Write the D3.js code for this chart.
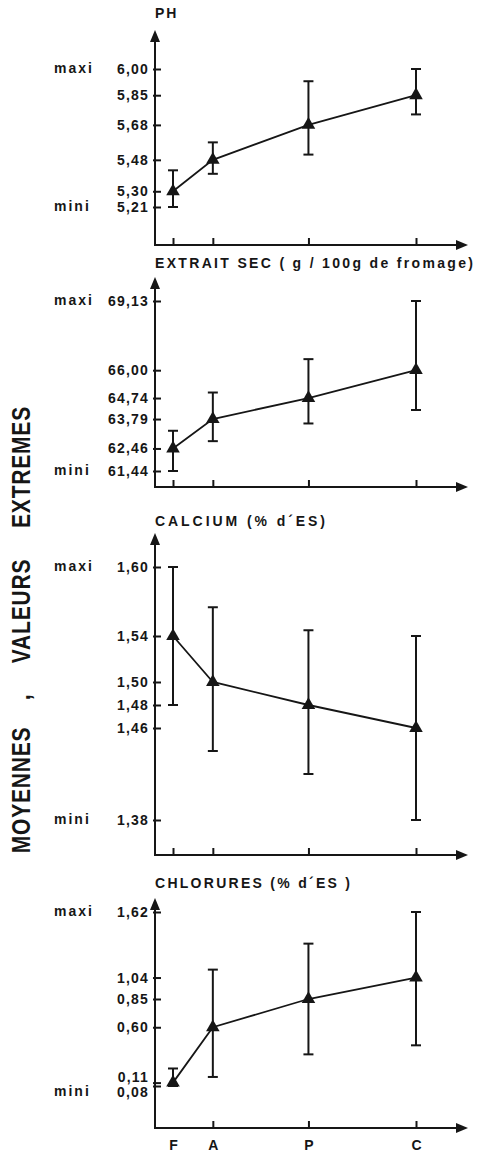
<!DOCTYPE html>
<html>
<head>
<meta charset="utf-8">
<script src="https://cdn.jsdelivr.net/npm/d3@7/dist/d3.min.js"></script>
<style>
body { margin: 0; background: #fff; }
svg { display: block; font-family: "Liberation Sans", Arial, sans-serif; font-weight: bold; }
</style>
</head>
<body>
<svg id="vis" width="481" height="1156"></svg>
<script>
/**
 * Data (French decimal comma in the labels)
 */
const STAGES = ["F", "A", "P", "C"];
const STAGE_POS = [0, 1, 3.4, 6.1];

const PH_TICKS = [6.00, 5.85, 5.68, 5.48, 5.30, 5.21];
const PH_MEAN = [5.30, 5.48, 5.68, 5.85];
const PH_LO = [5.21, 5.40, 5.51, 5.74];
const PH_HI = [5.42, 5.58, 5.93, 6.00];

const ES_TICKS = [69.13, 66.00, 64.74, 63.79, 62.46, 61.44];
const ES_MEAN = [62.46, 63.79, 64.74, 66.00];
const ES_LO = [61.44, 62.79, 63.59, 64.20];
const ES_HI = [63.26, 64.99, 66.50, 69.13];

const CA_TICKS = [1.60, 1.54, 1.50, 1.48, 1.46, 1.38];
const CA_MEAN = [1.54, 1.50, 1.48, 1.46];
const CA_LO = [1.48, 1.44, 1.42, 1.38];
const CA_HI = [1.60, 1.565, 1.545, 1.54];

const CL_TICKS = [1.62, 1.04, 0.85, 0.60, 0.11, 0.08];
const CL_MEAN = [0.11, 0.60, 0.85, 1.04];
const CL_LO = [0.08, 0.16, 0.36, 0.44];
const CL_HI = [0.235, 1.11, 1.34, 1.62];

const INK = "#161616";
const AXIS_X = 155;
const ARROW_END = 468;

// layout of the four stacked panels
const PANELS = [
    {title: "PH", ticks: PH_TICKS, mean: PH_MEAN, lo: PH_LO, hi: PH_HI,
     titleY: 18, titleW: null, arrowTop: 30, axisY: 245, range: [207, 69]},
    {title: "EXTRAIT SEC ( g / 100g de fromage)", ticks: ES_TICKS, mean: ES_MEAN, lo: ES_LO, hi: ES_HI,
     titleY: 268, titleW: 320, arrowTop: 277, axisY: 487, range: [471, 301]},
    {title: "CALCIUM (% d\u00B4ES)", ticks: CA_TICKS, mean: CA_MEAN, lo: CA_LO, hi: CA_HI,
     titleY: 526, titleW: 172, arrowTop: 533, axisY: 855, range: [820, 567]},
    {title: "CHLORURES (% d\u00B4ES )", ticks: CL_TICKS, mean: CL_MEAN, lo: CL_LO, hi: CL_HI,
     titleY: 888, titleW: 197, arrowTop: 898, axisY: 1128, range: [1086, 912], last: true}
];

const svg = d3.select("#vis");
const fmt = v => d3.format(".2f")(v).replace(".", ",");

svg.append("defs").append("marker")
    .attr("id", "arrow")
    .attr("markerUnits", "userSpaceOnUse")
    .attr("viewBox", "0 0 12 10")
    .attr("markerWidth", 12).attr("markerHeight", 10)
    .attr("refX", 6).attr("refY", 5)
    .attr("orient", "auto")
    .append("path").attr("d", "M0,0L12,5L0,10Z").attr("fill", INK);

const x = d3.scaleLinear().domain([0, 6.1]).range([173, 416]);

PANELS.forEach(p => {
    const g = svg.append("g");
    const y = d3.scaleLinear()
        .domain([d3.min(p.ticks), d3.max(p.ticks)])
        .range(p.range);

    // title
    const t = g.append("text")
        .attr("x", AXIS_X).attr("y", p.titleY)
        .attr("font-size", 14).attr("letter-spacing", 2)
        .attr("fill", INK).text(p.title);
    if (p.titleW) t.attr("textLength", p.titleW).attr("lengthAdjust", "spacing");

    // axis lines with arrow heads
    g.append("line")
        .attr("x1", AXIS_X).attr("x2", AXIS_X)
        .attr("y1", p.axisY).attr("y2", p.arrowTop + 6)
        .attr("stroke", INK).attr("stroke-width", 2)
        .attr("marker-end", "url(#arrow)");
    g.append("line")
        .attr("x1", AXIS_X - 1).attr("x2", ARROW_END - 6)
        .attr("y1", p.axisY).attr("y2", p.axisY)
        .attr("stroke", INK).attr("stroke-width", 2)
        .attr("marker-end", "url(#arrow)");

    // y ticks
    const yAxis = g.append("g")
        .attr("transform", `translate(${AXIS_X},0)`)
        .call(d3.axisLeft(y).tickValues(p.ticks).tickFormat(fmt)
            .tickSizeInner(-6).tickSizeOuter(0).tickPadding(6));
    yAxis.select(".domain").remove();
    yAxis.selectAll(".tick line").attr("stroke", INK).attr("stroke-width", 2).attr("x1", -2);
    yAxis.selectAll(".tick text")
        .attr("font-size", 14).attr("letter-spacing", 1.2)
        .attr("font-family", "'Liberation Sans', Arial, sans-serif")
        .attr("font-weight", "bold").attr("fill", INK);

    // push apart labels that sit too close
    const GAP = 15;
    const pos = p.ticks.map(v => ({v: v, y: y(v)})).sort((a, b) => a.y - b.y);
    for (let i = 1; i < pos.length; i++) {
        if (pos[i].y - pos[i - 1].y < GAP) {
            const mid = (pos[i].y + pos[i - 1].y) / 2;
            pos[i - 1].y = mid - GAP / 2;
            pos[i].y = mid + GAP / 2;
        }
    }
    const labelY = new Map(pos.map(d => [d.v, d.y]));
    yAxis.selectAll(".tick text").attr("y", d => labelY.get(d) - y(d));

    // mini / maxi captions
    g.append("text").attr("x", 54).attr("y", labelY.get(d3.max(p.ticks)))
        .attr("dy", "0.32em").attr("font-size", 14).attr("letter-spacing", 2)
        .attr("fill", INK).text("maxi");
    g.append("text").attr("x", 54).attr("y", labelY.get(d3.min(p.ticks)))
        .attr("dy", "0.32em").attr("font-size", 14).attr("letter-spacing", 2)
        .attr("fill", INK).text("mini");

    // x ticks
    const xAxis = g.append("g")
        .attr("transform", `translate(0,${p.axisY})`)
        .call(d3.axisBottom(x).tickValues(STAGE_POS)
            .tickFormat((d, i) => p.last ? STAGES[i] : "")
            .tickSizeInner(-7).tickSizeOuter(0).tickPadding(12));
    xAxis.select(".domain").remove();
    xAxis.selectAll(".tick line").attr("stroke", INK).attr("stroke-width", 2);
    if (p.last) xAxis.selectAll(".tick line").filter((d, i) => i === 0).remove();
    xAxis.selectAll(".tick text")
        .attr("font-size", 14).attr("font-weight", "bold")
        .attr("font-family", "'Liberation Sans', Arial, sans-serif")
        .attr("fill", INK);

    const rows = STAGES.map((s, i) => ({s: s, pos: STAGE_POS[i], m: p.mean[i], lo: p.lo[i], hi: p.hi[i]}));

    // error bars
    const eb = g.selectAll("g.err").data(rows).enter().append("g").attr("class", "err")
        .attr("stroke", INK).attr("stroke-width", 2);
    eb.append("line")
        .attr("x1", d => x(d.pos)).attr("x2", d => x(d.pos))
        .attr("y1", d => y(d.lo)).attr("y2", d => y(d.hi));
    eb.append("line")
        .attr("x1", d => x(d.pos) - 5).attr("x2", d => x(d.pos) + 5)
        .attr("y1", d => y(d.lo)).attr("y2", d => y(d.lo));
    eb.append("line")
        .attr("x1", d => x(d.pos) - 5).attr("x2", d => x(d.pos) + 5)
        .attr("y1", d => y(d.hi)).attr("y2", d => y(d.hi));

    // line through the means
    g.append("path").datum(rows)
        .attr("d", d3.line().x(d => x(d.pos)).y(d => y(d.m)))
        .attr("fill", "none").attr("stroke", INK).attr("stroke-width", 1.8);

    g.selectAll("path.pt").data(rows).enter().append("path").attr("class", "pt")
        .attr("transform", d => `translate(${x(d.pos)},${y(d.m)})`)
        .attr("d", d3.symbol(d3.symbolTriangle, 80))
        .attr("fill", INK);
});

// vertical caption on the left
const CAPTION = [
    {t: "EXTREMES", c: 467},
    {t: "VALEURS", c: 611},
    {t: ",", c: 697},
    {t: "MOYENNES", c: 790}
];
svg.selectAll("text.cap").data(CAPTION).enter().append("text").attr("class", "cap")
    .attr("transform", d => `translate(30,${d.c}) rotate(-90) scale(1,1.2)`)
    .attr("text-anchor", "middle")
    .attr("font-size", 21).attr("letter-spacing", 0.8)
    .attr("fill", INK).text(d => d.t);
</script>
</body>
</html>
